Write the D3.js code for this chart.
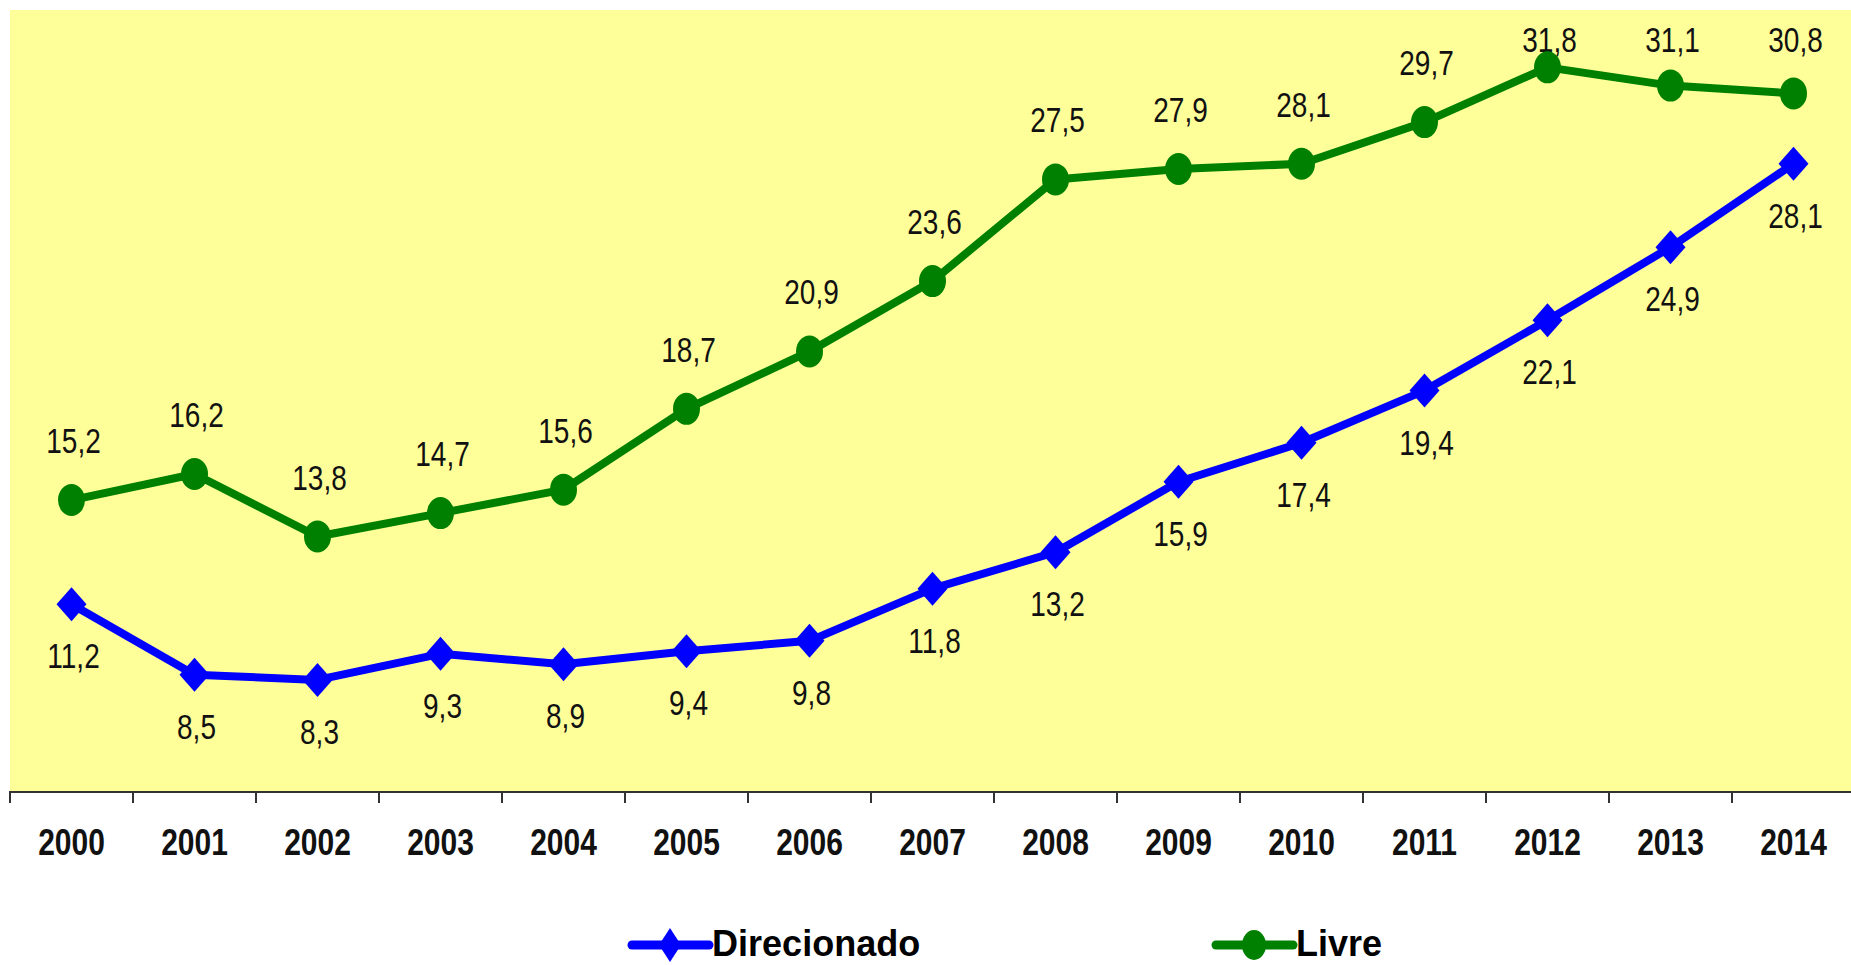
<!DOCTYPE html>
<html>
<head>
<meta charset="utf-8">
<script src="https://cdn.jsdelivr.net/npm/d3@7"></script>
<style>
  html, body { margin: 0; padding: 0; background: #ffffff; overflow: hidden; }
  svg { display: block; }
</style>
</head>
<body>
<svg id="chart" width="1851" height="965"></svg>
<script>
const years = ["2000","2001","2002","2003","2004","2005","2006","2007","2008","2009","2010","2011","2012","2013","2014"];
const direcionado = [11.2, 8.5, 8.3, 9.3, 8.9, 9.4, 9.8, 11.8, 13.2, 15.9, 17.4, 19.4, 22.1, 24.9, 28.1];
const livre = [15.2, 16.2, 13.8, 14.7, 15.6, 18.7, 20.9, 23.6, 27.5, 27.9, 28.1, 29.7, 31.8, 31.1, 30.8];
const seriesNames = ["Direcionado", "Livre"];
const yDomain = [4, 34];

const svg = d3.select("#chart");
const W = 1851, H = 965;
const plot = {left: 10, top: 10, right: 1855, bottom: 792};

const x = d3.scaleBand().domain(years).range([plot.left, plot.right]).padding(0);
const y = d3.scaleLinear().domain(yDomain).range([plot.bottom, plot.top]);
const fmt = v => d3.format(".1f")(v).replace(".", ",");
const cx = yr => x(yr) + x.bandwidth() / 2;

// plot background
svg.append("rect")
  .attr("x", plot.left).attr("y", plot.top)
  .attr("width", W - plot.left).attr("height", plot.bottom - plot.top)
  .attr("fill", "#FFFF99");

// x axis
const axis = d3.axisBottom(x).tickSize(11).tickFormat("");
const gAxis = svg.append("g").attr("transform", `translate(0,${plot.bottom})`).call(axis);
gAxis.select(".domain").attr("stroke", "#333").attr("stroke-width", 2)
  .attr("d", `M${plot.left},11V0H${W}`);
gAxis.selectAll(".tick line").attr("stroke", "#333").attr("stroke-width", 2)
  .attr("transform", `translate(${-x.bandwidth()/2},0)`);

// year labels
svg.append("g").selectAll("text").data(years).join("text")
  .attr("transform", d => `translate(${cx(d)},855) scale(1,1.24)`)
  .attr("text-anchor", "middle")
  .attr("font-family", "Liberation Sans, Arial, sans-serif")
  .attr("font-weight", "bold")
  .attr("font-size", 30)
  .attr("fill", "#111")
  .text(d => d);

const series = [
  {name: seriesNames[0], values: direcionado, color: "#0000FF", shape: "diamond", labelDy: 64},
  {name: seriesNames[1], values: livre, color: "#008000", shape: "circle", labelDy: -47}
];

// data labels (drawn beneath markers); kept inside the plot area like the original
const minBaseline = plot.top + 42;
series.forEach(s => {
  svg.append("g").selectAll("text").data(s.values).join("text")
    .attr("transform", (d, i) => `translate(${cx(years[i]) + 2},${Math.max(y(d) + s.labelDy, minBaseline)}) scale(1,1.25)`)
    .attr("text-anchor", "middle")
    .attr("font-family", "Liberation Sans, Arial, sans-serif")
    .attr("font-size", 28)
    .attr("fill", "#111")
    .text(d => fmt(d));
});

const line = d3.line().x((d, i) => cx(years[i])).y(d => y(d));
function drawMarker(g, shape, color, px, py, hw, hh) {
  if (shape === "diamond") {
    g.append("path")
      .attr("d", `M${px},${py - hh}L${px + hw},${py}L${px},${py + hh}L${px - hw},${py}Z`)
      .attr("fill", color);
  } else {
    g.append("ellipse")
      .attr("cx", px).attr("cy", py).attr("rx", hw).attr("ry", hh)
      .attr("fill", color);
  }
}

series.forEach(s => {
  const g = svg.append("g");
  g.append("path").datum(s.values)
    .attr("d", line)
    .attr("fill", "none")
    .attr("stroke", s.color)
    .attr("stroke-width", 8)
    .attr("stroke-linejoin", "round");
  s.values.forEach((v, i) => {
    if (s.shape === "diamond") drawMarker(g, "diamond", s.color, cx(years[i]), y(v), 15, 17);
    else drawMarker(g, "circle", s.color, cx(years[i]), y(v), 13.5, 16);
  });
});

// legend
const legendItems = [
  {s: series[0], x0: 632},
  {s: series[1], x0: 1216}
];
legendItems.forEach(li => {
  const g = svg.append("g");
  const ly = 945;
  g.append("line").attr("x1", li.x0).attr("x2", li.x0 + 77).attr("y1", ly).attr("y2", ly)
    .attr("stroke", li.s.color).attr("stroke-width", 9).attr("stroke-linecap", "round");
  if (li.s.shape === "diamond") drawMarker(g, "diamond", li.s.color, li.x0 + 38, ly, 11, 17);
  else drawMarker(g, "circle", li.s.color, li.x0 + 38, ly, 12, 15);
  g.append("text")
    .attr("transform", `translate(${li.x0 + 80},956) scale(1.06,1.1)`)
    .attr("font-family", "Liberation Sans, Arial, sans-serif")
    .attr("font-weight", "bold")
    .attr("font-size", 34)
    .attr("fill", "#000")
    .text(li.s.name);
});
</script>
</body>
</html>
